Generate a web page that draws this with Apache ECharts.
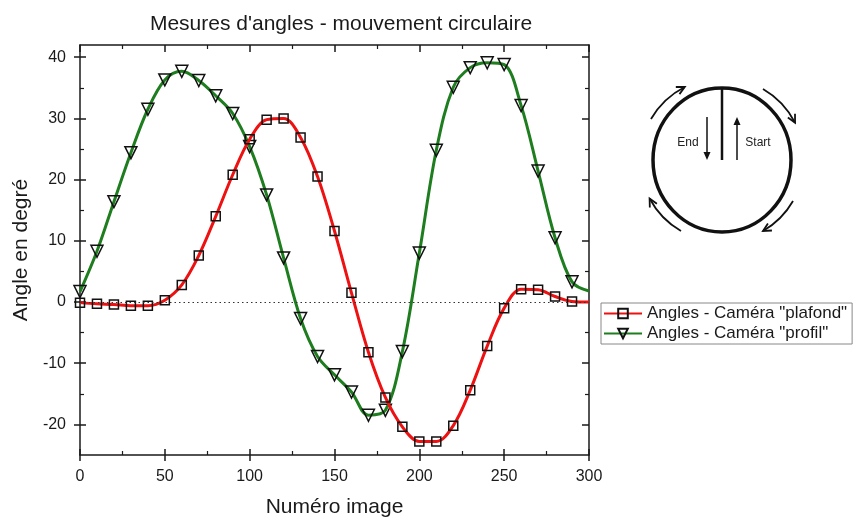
<!DOCTYPE html>
<html>
<head>
<meta charset="utf-8">
<script src="https://cdn.jsdelivr.net/npm/echarts@6/dist/echarts.min.js"></script>
<style>
  html, body { margin: 0; padding: 0; background: #fff; }
  #main { width: 857px; height: 523px; }
</style>
</head>
<body>
<div id="main"></div>
<script>
const frames = [0, 10, 20, 30, 40, 50, 60, 70, 80, 90, 100, 110, 120, 130, 140,
  150, 160, 170, 180, 190, 200, 210, 220, 230, 240, 250, 260, 270, 280, 290];
const plafond = [-0.1, -0.3, -0.4, -0.6, -0.6, 0.3, 2.8, 7.6, 14.0, 20.8, 26.6, 29.8, 30.0, 26.9, 20.5,
  11.6, 1.5, -8.2, -15.6, -20.4, -22.8, -22.8, -20.2, -14.4, -7.2, -1.0, 2.1, 2.0, 0.9, 0.1];
const profil = [1.7, 8.3, 16.4, 24.4, 31.5, 36.3, 37.7, 36.2, 33.7, 30.8, 25.4, 17.5, 7.2, -2.7, -8.9,
  -11.9, -14.7, -18.5, -17.7, -8.1, 8.0, 24.8, 35.1, 38.3, 39.1, 38.8, 32.1, 21.4, 10.5, 3.3];
// fitted curves run on to frame 300
const curveEnd = { frame: 300, plafond: 0.0, profil: 1.8 };
const yTicks = [-20, -10, 0, 10, 20, 30, 40];
const yMinorTicks = [-15, -5, 5, 15, 25, 35];
const names = ['Angles - Caméra "plafond"', 'Angles - Caméra "profil"'];

const font = 'Liberation Sans, Arial, sans-serif';
const ink = '#1a1a1a';
const chart = echarts.init(document.getElementById('main'));

const toData = (vals, end) =>
  frames.map((f, i) => [f, vals[i]]).concat([{ value: [curveEnd.frame, end], symbol: 'none' }]);

// x axes: main bottom one with labels, an inner copy for crossing ticks, and the top border
const xBase = { type: 'value', min: 0, max: 300, interval: 50, splitLine: { show: false } };
const xAxes = [
  Object.assign({}, xBase, {
    position: 'bottom',
    name: 'Numéro image', nameLocation: 'middle', nameGap: 42,
    nameTextStyle: { fontFamily: font, fontSize: 21, color: ink },
    axisLine: { onZero: false, lineStyle: { color: ink, width: 1.5 } },
    axisTick: { length: 6, lineStyle: { color: ink, width: 1.5 } },
    axisLabel: { margin: 14, fontFamily: font, fontSize: 16, color: ink }
  }),
  Object.assign({}, xBase, {
    position: 'bottom',
    axisLine: { show: false, onZero: false },
    axisTick: { inside: true, length: 6, lineStyle: { color: ink, width: 1.5 } },
    minorTick: { show: true, splitNumber: 2, length: 4, lineStyle: { color: ink, width: 1.2 } },
    axisLabel: { show: false }
  }),
  Object.assign({}, xBase, {
    position: 'top',
    axisLine: { onZero: false, lineStyle: { color: ink, width: 1.5 } },
    axisTick: { inside: true, length: 7, lineStyle: { color: ink, width: 1.5 } },
    minorTick: { show: true, splitNumber: 2, length: 4, lineStyle: { color: ink, width: 1.2 } },
    axisLabel: { show: false }
  })
];

const yBase = { type: 'value', min: -25, max: 42, splitLine: { show: false }, axisLabel: { show: false } };
const yAxes = [
  Object.assign({}, yBase, {
    position: 'left',
    name: 'Angle en degré', nameLocation: 'middle', nameGap: 41,
    nameTextStyle: { fontFamily: font, fontSize: 21, color: ink },
    axisLine: { onZero: false, lineStyle: { color: ink, width: 1.5 } },
    axisTick: { customValues: yTicks, length: 6, lineStyle: { color: ink, width: 1.5 } },
    axisLabel: { customValues: yTicks, margin: 14, fontFamily: font, fontSize: 16, color: ink }
  }),
  Object.assign({}, yBase, {
    position: 'left',
    axisLine: { show: false, onZero: false },
    axisTick: { customValues: yTicks, inside: true, length: 6, lineStyle: { color: ink, width: 1.5 } }
  }),
  Object.assign({}, yBase, {
    position: 'left',
    axisLine: { show: false, onZero: false },
    axisTick: { customValues: yMinorTicks, inside: true, length: 4, lineStyle: { color: ink, width: 1.2 } }
  }),
  Object.assign({}, yBase, {
    position: 'right',
    axisLine: { onZero: false, lineStyle: { color: ink, width: 1.5 } },
    axisTick: { customValues: yTicks, inside: true, length: 7, lineStyle: { color: ink, width: 1.5 } }
  }),
  Object.assign({}, yBase, {
    position: 'right',
    axisLine: { show: false, onZero: false },
    axisTick: { customValues: yMinorTicks, inside: true, length: 4, lineStyle: { color: ink, width: 1.2 } }
  })
];

// circular movement sketch
const cx = 722, cy = 160, R = 82;
const deg = Math.PI / 180;
const sketch = [
  { type: 'ellipse', shape: { cx: cx, cy: cy, rx: 69, ry: 72 }, style: { fill: 'none', stroke: '#111', lineWidth: 3.5 } },
  { type: 'line', shape: { x1: cx, y1: 88, x2: cx, y2: 160 }, style: { stroke: '#111', lineWidth: 2.5 } },
  { type: 'line', shape: { x1: 707, y1: 117, x2: 707, y2: 154 }, style: { stroke: '#111', lineWidth: 1.5 } },
  { type: 'polygon', shape: { points: [[703.5, 152], [710.5, 152], [707, 160]] }, style: { fill: '#111' } },
  { type: 'line', shape: { x1: 737, y1: 123, x2: 737, y2: 160 }, style: { stroke: '#111', lineWidth: 1.5 } },
  { type: 'polygon', shape: { points: [[733.5, 125], [740.5, 125], [737, 117]] }, style: { fill: '#111' } },
  { type: 'text', x: 688, y: 143, style: { text: 'End', font: '12px ' + font, fill: '#222', align: 'center', verticalAlign: 'middle' } },
  { type: 'text', x: 758, y: 143, style: { text: 'Start', font: '12px ' + font, fill: '#222', align: 'center', verticalAlign: 'middle' } }
];
[[210, 243], [300, 333], [30, 60], [120, 152]].forEach(([a0, a1]) => {
  sketch.push({
    type: 'arc',
    shape: { cx: cx, cy: cy, r: R, startAngle: a0 * deg, endAngle: a1 * deg, clockwise: true },
    style: { fill: 'none', stroke: '#111', lineWidth: 1.8 }
  });
  const t = a1 * deg;
  const px = cx + R * Math.cos(t), py = cy + R * Math.sin(t);
  const dx = -Math.sin(t), dy = Math.cos(t);
  const nx = Math.cos(t), ny = Math.sin(t);
  sketch.push({
    type: 'polyline',
    shape: { points: [[px - 8 * dx + 4 * nx, py - 8 * dy + 4 * ny], [px, py], [px - 8 * dx - 4 * nx, py - 8 * dy - 4 * ny]] },
    style: { fill: 'none', stroke: '#111', lineWidth: 1.8 }
  });
});

const option = {
  animation: false,
  backgroundColor: '#fff',
  title: {
    text: "Mesures d'angles - mouvement circulaire",
    left: 336, top: 9, textAlign: 'center',
    textStyle: { fontFamily: font, fontSize: 21, fontWeight: 'normal', color: ink }
  },
  grid: { left: 80, right: 268, top: 45, bottom: 68 },
  legend: {
    orient: 'vertical', left: 601, top: 303,
    padding: [2, 5, 2, 2], itemGap: 3, itemWidth: 38, itemHeight: 12,
    borderColor: '#888', borderWidth: 1,
    textStyle: { fontFamily: font, fontSize: 17, color: ink },
    data: names
  },
  xAxis: xAxes,
  yAxis: yAxes,
  graphic: sketch,
  series: [
    {
      name: names[0], type: 'line', smooth: 0.35,
      data: toData(plafond, curveEnd.plafond),
      symbol: 'rect', symbolSize: 9,
      lineStyle: { color: '#ee1111', width: 3 },
      itemStyle: { color: 'rgba(0,0,0,0)', borderColor: '#111', borderWidth: 1.5 },
      markLine: {
        silent: true, symbol: ['none', 'none'], label: { show: false },
        lineStyle: { type: [1.5, 3], color: '#333', width: 1 },
        data: [{ yAxis: 0 }]
      },
      z: 3
    },
    {
      name: names[1], type: 'line', smooth: 0.35,
      data: toData(profil, curveEnd.profil),
      symbol: 'triangle', symbolRotate: 180, symbolSize: 12,
      lineStyle: { color: '#1e7d1e', width: 3 },
      itemStyle: { color: 'rgba(0,0,0,0)', borderColor: '#111', borderWidth: 1.5 },
      z: 2
    }
  ]
};
chart.setOption(option);
</script>
</body>
</html>
